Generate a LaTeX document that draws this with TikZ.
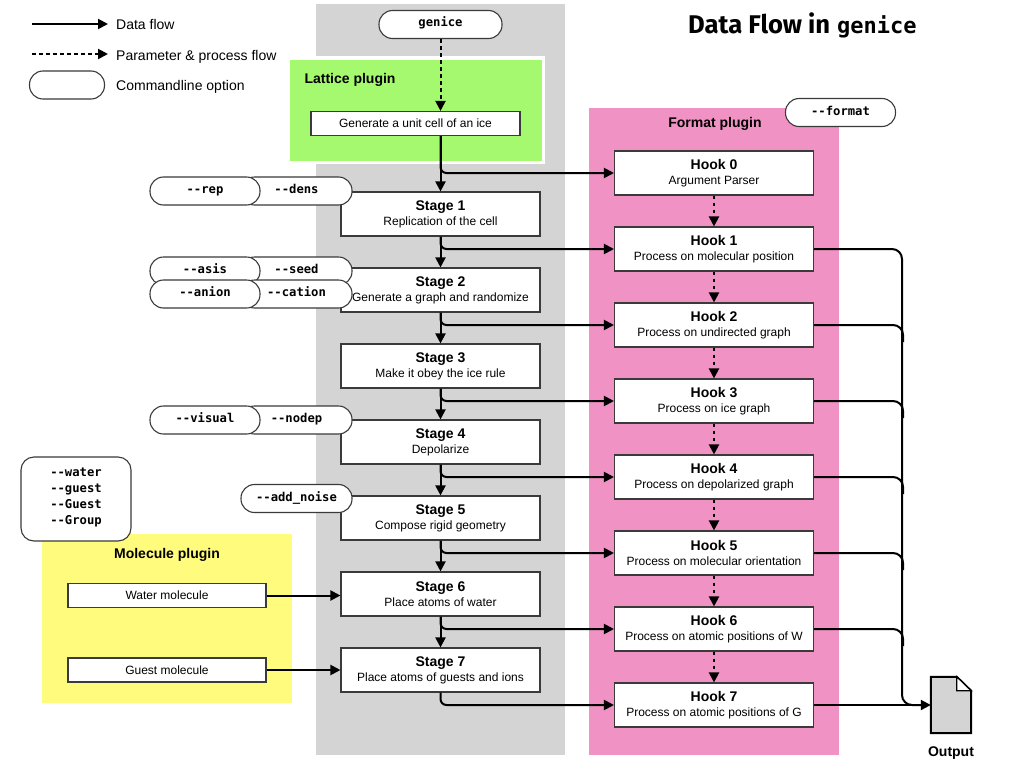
\documentclass[tikz,border=0pt]{standalone}
\usepackage{fontspec}
\setmainfont{Liberation Sans}
\setmonofont{DejaVu Sans Mono}
\newfontfamily\titlefont{Fira Sans}
\usetikzlibrary{arrows.meta}
\definecolor{panelgray}{HTML}{D4D4D4}
\definecolor{latticegreen}{HTML}{A5F96E}
\definecolor{formatpink}{HTML}{F192C4}
\definecolor{molyellow}{HTML}{FFFB7D}
\definecolor{linedark}{HTML}{3A3A3A}
\newcommand{\ttl}[1]{{\fontsize{14}{15}\selectfont\bfseries #1}}
\tikzset{
  stagebox/.style={draw=linedark,line width=1.1pt,fill=white,minimum width=199pt,minimum height=44pt,inner sep=0pt,align=center,font=\fontsize{12}{15}\selectfont},
  pluginbox/.style={draw=linedark,line width=1.1pt,fill=white,minimum width=198pt,minimum height=24pt,inner sep=0pt,font=\fontsize{12}{14}\selectfont},
  pill/.style={draw=linedark,line width=1.1pt,fill=white,rounded corners=13.5pt,minimum height=28pt,inner sep=0pt,text height=9pt,text depth=4pt,font=\fontsize{12.2}{14}\selectfont\ttfamily\bfseries},
  flow/.style={draw=black,line width=2pt,-{Triangle[length=10pt,width=10pt]}},
  procflow/.style={draw=black,line width=2pt,dash pattern=on 3.5pt off 3.5pt,-{Triangle[length=10pt,width=10pt]}},
  branch/.style={flow,rounded corners=6pt},
  outline/.style={draw=black,line width=2pt,rounded corners=10pt},
  caption/.style={inner sep=0pt,anchor=base,font=\fontsize{14}{16}\selectfont\bfseries},
  legendtext/.style={inner sep=0pt,anchor=base west,font=\fontsize{14}{16}\selectfont},
}
\begin{document}
\begin{tikzpicture}[x=1pt,y=-1pt]
\useasboundingbox (0,0) rectangle (1024,768);
\fill[white] (0,0) rectangle (1024,768);
% panels
\fill[panelgray] (316,4) rectangle (565,755);
\fill[formatpink] (589,108) rectangle (839,755);
\fill[molyellow] (42,534) rectangle (292,703);
\draw[white,line width=3pt,fill=latticegreen] (288,58) rectangle (543,162);
% title
\node[inner sep=0pt,anchor=base west,font=\fontsize{25.6}{28}\selectfont\titlefont\bfseries] (title) at (688,34) {Data Flow in};
\node[inner sep=0pt,anchor=base west,font=\fontsize{22}{26}\selectfont\ttfamily\bfseries] (titlemono) at (837,34) {genice};
% legend
\coordinate (la) at (32,24); \coordinate (lb) at (108,24);
\coordinate (lc) at (32,54); \coordinate (ld) at (108,54);
\draw[flow] (la) -- (lb);
\draw[procflow] (lc) -- (ld);
\node[pill,minimum width=75pt] (legpill) at (67,85) {};
\node[legendtext] (t1) at (116,30) {Data flow};
\node[legendtext] (t2) at (116,60) {Parameter \& process flow};
\node[legendtext] (t3) at (116,90) {Commandline option};
% captions
\node[caption] (latcap) at (350,83) {Lattice plugin};
\node[caption] (fmtcap) at (715,127) {Format plugin};
\node[caption] (molcap) at (167,558) {Molecule plugin};
\node[caption] (outcap) at (951,756) {Output};
% top boxes
\node[pill,minimum width=123pt] (genice) at (440.5,24.5) {genice};
\node[pluginbox,minimum width=209pt] (unit) at (415.5,123.5) {Generate a unit cell of an ice};
\node[pluginbox] (water) at (167,595.5) {Water molecule};
\node[pluginbox] (guest) at (167,670) {Guest molecule};
% stages
\node[stagebox] (s1) at (440.5,214) {\ttl{Stage 1}\\Replication of the cell};
\node[stagebox] (s2) at (440.5,290) {\ttl{Stage 2}\\Generate a graph and randomize};
\node[stagebox] (s3) at (440.5,366) {\ttl{Stage 3}\\Make it obey the ice rule};
\node[stagebox] (s4) at (440.5,442) {\ttl{Stage 4}\\Depolarize};
\node[stagebox] (s5) at (440.5,518) {\ttl{Stage 5}\\Compose rigid geometry};
\node[stagebox] (s6) at (440.5,594) {\ttl{Stage 6}\\Place atoms of water};
\node[stagebox] (s7) at (440.5,670) {\ttl{Stage 7}\\Place atoms of guests and ions};
% hooks
\node[stagebox] (h0) at (714,173) {\ttl{Hook 0}\\Argument Parser};
\node[stagebox] (h1) at (714,249) {\ttl{Hook 1}\\Process on molecular position};
\node[stagebox] (h2) at (714,325) {\ttl{Hook 2}\\Process on undirected graph};
\node[stagebox] (h3) at (714,401) {\ttl{Hook 3}\\Process on ice graph};
\node[stagebox] (h4) at (714,477) {\ttl{Hook 4}\\Process on depolarized graph};
\node[stagebox] (h5) at (714,553) {\ttl{Hook 5}\\Process on molecular orientation};
\node[stagebox] (h6) at (714,629) {\ttl{Hook 6}\\Process on atomic positions of W};
\node[stagebox] (h7) at (714,705) {\ttl{Hook 7}\\Process on atomic positions of G};
% option pills
\node[pill,minimum width=111pt] (dens) at (296.5,191) {--dens};
\node[pill,minimum width=110pt] (rep) at (205,191) {--rep};
\node[pill,minimum width=111pt] (seed) at (296.5,271) {--seed};
\node[pill,minimum width=110pt] (asis) at (205,271) {--asis};
\node[pill,minimum width=111pt] (cation) at (296.5,294) {--cation};
\node[pill,minimum width=110pt] (anion) at (205,294) {--anion};
\node[pill,minimum width=111pt] (nodep) at (296.5,420) {--nodep};
\node[pill,minimum width=110pt] (visual) at (205,420) {--visual};
\node[pill,minimum width=111pt] (noise) at (296.5,498.5) {--add\_noise};
\node[pill,minimum width=110pt] (format) at (840.5,112.5) {--format};
\node[draw=linedark,line width=1.1pt,fill=white,rounded corners=13pt,inner sep=0pt,minimum width=110pt,minimum height=84pt,align=center,font=\fontsize{12.2}{16}\selectfont\ttfamily\bfseries] (mol) at (76,499) {--water\\--guest\\--Guest\\--Group\rule[-5pt]{0pt}{5pt}};
% output document
\node[inner sep=0pt,minimum width=40pt,minimum height=56pt] (out) at (951,705) {};
\draw[black,line width=2pt,fill=panelgray,line join=miter] (out.north west) -- ([xshift=26pt]out.north west) -- ([yshift=-14pt]out.north east) -- (out.south east) -- (out.south west) -- cycle;
\draw[black,line width=1.2pt,fill=white] ([xshift=26pt]out.north west) -- ([xshift=26pt,yshift=-14pt]out.north west) -- ([yshift=-14pt]out.north east) -- cycle;
% dashed
\draw[procflow] (genice.south) -- (unit.north -| genice);
\foreach \a/\b in {h0/h1,h1/h2,h2/h3,h3/h4,h4/h5,h5/h6,h6/h7}{\draw[procflow] (\a.south) -- (\b.north);}
% stage flow
\coordinate (u0) at (unit.south -| s1);
\draw[flow] (u0) -- (s1.north);
\draw[flow] (s1.south) -- (s2.north);
\draw[flow] (s2.south) -- (s3.north);
\draw[flow] (s3.south) -- (s4.north);
\draw[flow] (s4.south) -- (s5.north);
\draw[flow] (s5.south) -- (s6.north);
\draw[flow] (s6.south) -- (s7.north);
\draw[branch] (u0) |- (h0.west);
\foreach \i in {1,...,7}{\draw[branch] (s\i.south) |- (h\i.west);}
\draw[flow] (water.east) -- (water.east -| s6.west);
\draw[flow] (guest.east) -- (guest.east -| s7.west);
% output lines
\coordinate (bus) at (902,249);
\draw[outline] (h1.east) -- (bus) -- (bus |- out.west) -- ([xshift=-5pt]out.west);
\foreach \i in {2,...,6}{
  \coordinate (e\i) at ([xshift=89pt,yshift=-17pt]h\i.east);
  \draw[outline] (h\i.east) -| (e\i);
}
\draw[flow] (h7.east) -- (out.west);
\end{tikzpicture}
\end{document}
